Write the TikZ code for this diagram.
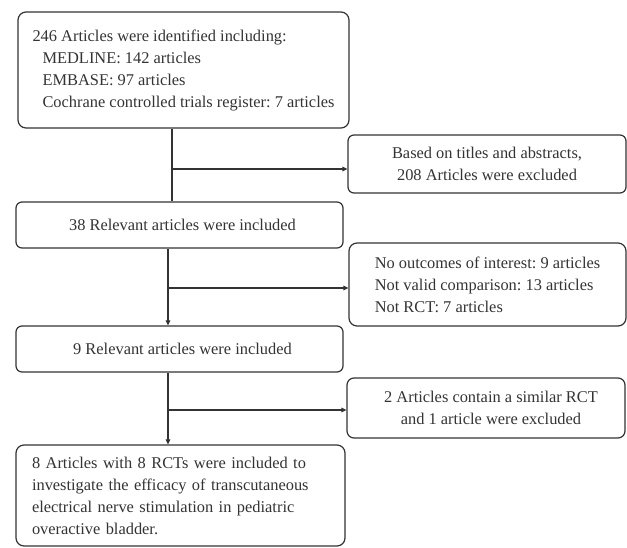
\documentclass[tikz,border=0pt]{standalone}
\usepackage{fontspec}
\setmainfont{Liberation Serif}
\usetikzlibrary{arrows.meta}
\definecolor{linec}{HTML}{333333}
\definecolor{textc}{HTML}{333333}
\frenchspacing
\begin{document}
\begin{tikzpicture}[x=1pt,y=-1pt,
  box/.style={draw=linec, line width=1.2pt, rounded corners=#1, inner sep=0pt,
    text=textc, font=\fontsize{16.4}{22}\selectfont, align=center},
  box/.default=8pt,
  link/.style={draw=linec, line width=1.2pt},
  arr/.style={link, -{Triangle[length=5pt,width=4.5pt]}}]
\useasboundingbox (0,0) rectangle (627,547);

\node[box, minimum width=331pt, minimum height=116pt, align=left]
  (box1) at (183.5,70) {246 Articles were identified including:\\
  \hspace*{10pt}MEDLINE: 142 articles\\
  \hspace*{10pt}EMBASE: 97 articles\\
  \hspace*{10pt}Cochrane controlled trials register: 7 articles};

\node[box=6pt, minimum width=278pt, minimum height=58pt]
  (box2) at (487,164) {Based on titles and abstracts,\\208 Articles were excluded};

\node[box=6pt, minimum width=327pt, minimum height=46pt]
  (box3) at (179.5,225) {\hspace*{6pt}38 Relevant articles were included};

\node[box, minimum width=277pt, minimum height=83pt, align=left]
  (box4) at (487.5,284.5) {No outcomes of interest: 9 articles\\
  Not valid comparison: 13 articles\\
  Not RCT: 7 articles\hspace*{8pt}};

\node[box=6pt, minimum width=327pt, minimum height=46pt]
  (box5) at (179.5,349) {\hspace*{6pt}9 Relevant articles were included};

\node[box=7pt, minimum width=278pt, minimum height=60pt]
  (box7) at (486,408) {\hspace*{10pt}2 Articles contain a similar RCT\\\hspace*{10pt}and 1 article were excluded};

\node[box, minimum width=329pt, minimum height=101pt, inner xsep=16pt, text width=297pt, align=left]
  (box6) at (180.5,495.5) {8 Articles with 8 RCTs were included to\\
  investigate the efficacy of transcutaneous\\
  electrical nerve stimulation in pediatric\\
  overactive bladder.};

\coordinate (xa) at (172,0);
\coordinate (xb) at (168,0);
\coordinate (b1) at (173,169);
\coordinate (b2) at (168,288);
\coordinate (b3) at (168,410);

\draw[link] (box1.south -| xa) -- (box3.north -| xa);
\draw[arr] (b1) -- (b1 -| box2.west);
\draw[arr] (box3.south -| xb) -- (box5.north -| xb);
\draw[arr] (b2) -- (b2 -| box4.west);
\draw[arr] (box5.south -| xb) -- (box6.north -| xb);
\draw[arr] (b3) -- (b3 -| box7.west);
\end{tikzpicture}
\end{document}
